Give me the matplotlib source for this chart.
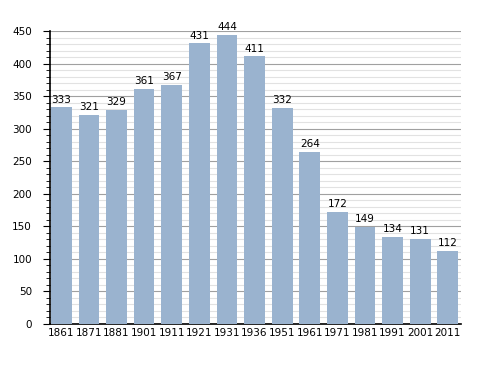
import matplotlib
matplotlib.use("Agg")
import matplotlib.pyplot as plt
from matplotlib.ticker import MultipleLocator

years = ["1861", "1871", "1881", "1901", "1911", "1921", "1931", "1936",
         "1951", "1961", "1971", "1981", "1991", "2001", "2011"]
population = [333, 321, 329, 361, 367, 431, 444, 411, 332, 264, 172, 149, 134, 131, 112]

fig = plt.figure(figsize=(4.88, 3.73), dpi=100)
ax = fig.add_axes([0.1025, 0.1314, 0.8422, 0.7855])

x = range(len(years))
ax.bar(x, population, width=0.75, color="#9ab3cf", zorder=3)
for i, v in enumerate(population):
    ax.text(i, v + 4, str(v), ha="center", va="bottom", fontsize=7.5, zorder=4)

ax.set_ylim(0, 450)
ax.set_xlim(-0.41, 14.48)
ax.yaxis.set_major_locator(MultipleLocator(50))
ax.yaxis.set_minor_locator(MultipleLocator(10))
ax.grid(axis="y", which="major", color="#a0a0a0", linewidth=0.8, zorder=1)
ax.grid(axis="y", which="minor", color="#e2e2e2", linewidth=0.8, zorder=1)

ax.set_xticks(list(x))
ax.set_xticklabels(years, fontsize=7.5)
ax.tick_params(axis="x", length=0, pad=3)
ax.tick_params(axis="y", which="major", length=5, labelsize=7.5, pad=8)
ax.tick_params(axis="y", which="minor", length=3)

for s in ["top", "right"]:
    ax.spines[s].set_visible(False)
ax.spines["left"].set_linewidth(1.2)
ax.spines["bottom"].set_linewidth(1.2)

fig.savefig("out.png", dpi=100)
